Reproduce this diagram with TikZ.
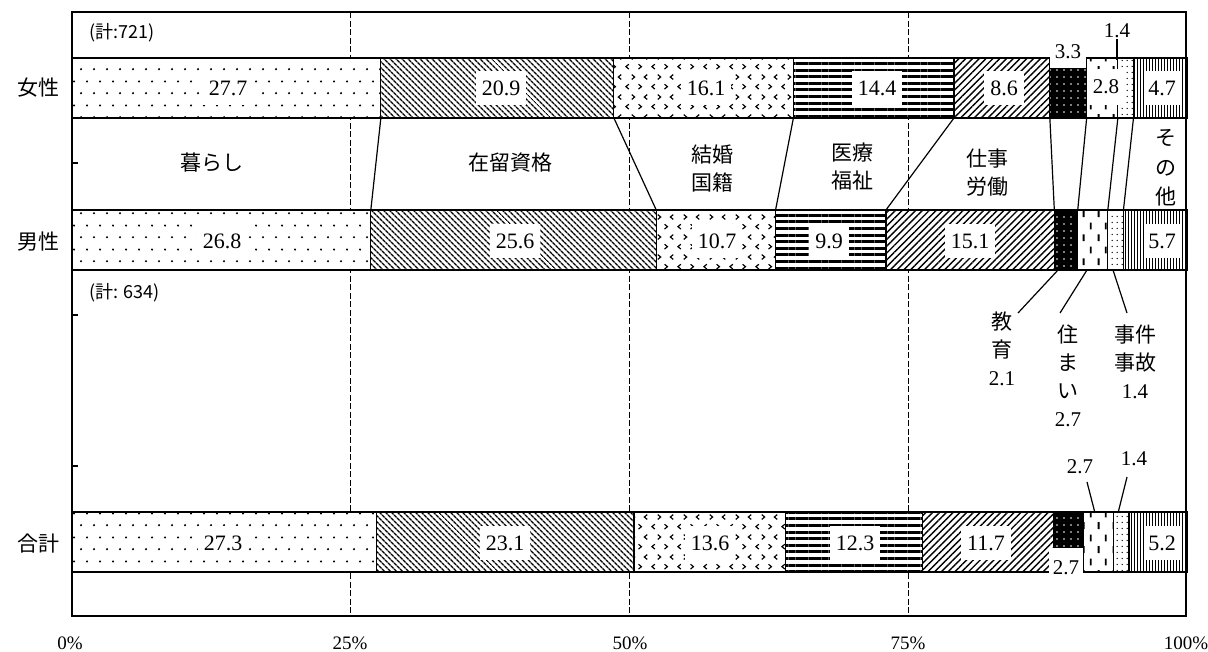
\documentclass[tikz,border=0pt]{standalone}
\usepackage{fontspec}
\setmainfont{Liberation Serif}
\newfontfamily\jp{Noto Sans CJK JP}
\usetikzlibrary{patterns.meta}

\tikzdeclarepattern{
  name=sparsedots, type=uncolored,
  bottom left={(0pt,0pt)}, top right={(13pt,24pt)}, tile size={(13pt,24pt)},
  code={
    \fill (3.25pt,6pt) circle [radius=1.2pt];
    \fill (9.75pt,18pt) circle [radius=1.2pt];
  }
}
\tikzdeclarepattern{
  name=chevrons, type=uncolored,
  bottom left={(0pt,0pt)}, top right={(26pt,20pt)}, tile size={(26pt,20pt)},
  code={
    \draw[line width=1.2pt] (5pt,2pt) -- (2pt,4.5pt) -- (5pt,7pt);
    \draw[line width=1.2pt] (15pt,2pt) -- (18pt,4.5pt) -- (15pt,7pt);
    \draw[line width=1.2pt] (8pt,12pt) -- (11pt,14.5pt) -- (8pt,17pt);
    \draw[line width=1.2pt] (24pt,12pt) -- (21pt,14.5pt) -- (24pt,17pt);
  }
}
\tikzdeclarepattern{
  name=vdashes, type=uncolored,
  bottom left={(0pt,0pt)}, top right={(15pt,24pt)}, tile size={(15pt,24pt)},
  code={
    \draw[line width=2pt] (3.75pt,2pt) -- (3.75pt,9pt);
    \draw[line width=2pt] (11.25pt,14pt) -- (11.25pt,21pt);
  }
}
\tikzdeclarepattern{
  name=tinydots, type=uncolored,
  bottom left={(0pt,0pt)}, top right={(5pt,6pt)}, tile size={(5pt,6pt)},
  code={
    \fill (2.5pt,3pt) circle [radius=0.8pt];
  }
}

\begin{document}
\begin{tikzpicture}[x=1pt,y=-1pt,
  seg/.style={draw=black, line width=1.2pt, preaction={fill=white}},
  kurashi/.style={pattern=sparsedots},
  zairyu/.style={pattern={Lines[angle=-45,distance=4pt,line width=1.5pt]}},
  kekkon/.style={pattern=chevrons},
  iryo/.style={pattern={Lines[angle=0,distance=6.6pt,line width=3pt]}},
  shigoto/.style={pattern={Lines[angle=45,distance=4.8pt,line width=1.4pt]}},
  kyoiku/.style={preaction={fill=black}, pattern={Dots[radius=0.9pt,distance=7pt]}, pattern color=white},
  sumai/.style={pattern=vdashes},
  jiken/.style={pattern=tinydots},
  sonota/.style={pattern={Lines[angle=90,distance=3pt,line width=1pt]}},
  grid/.style={dash pattern=on 6pt off 2.5pt, line width=1pt},
  conn/.style={line width=1.2pt},
  val/.style={fill=white, inner xsep=6pt, inner ysep=10pt, font=\fontsize{22}{24}\selectfont},
  small/.style={inner sep=1pt, font=\fontsize{21}{24}\selectfont},
  cat/.style={font=\jp\fontsize{21}{28}\selectfont, align=center},
  vlab/.style={font=\fontsize{21}{28}\selectfont, align=center},
  rowlab/.style={font=\jp\fontsize{21}{24}\selectfont},
  axlab/.style={font=\fontsize{19}{20}\selectfont},
  total/.style={font=\jp\fontsize{18}{20}\selectfont, anchor=west}
]
\def\sc{11.15}
\useasboundingbox (0,0) rectangle (1208,651);
\fill[white] (0,0) rectangle (1208,651);

% dashed grid lines
\foreach \p in {25,50,75}
  \draw[grid] ({72+\sc*\p},12) -- ({72+\sc*\p},616);

% bars
\foreach \s/\e/\st in {0/27.7/kurashi, 27.7/48.6/zairyu, 48.6/64.7/kekkon, 64.7/79.1/iryo, 79.1/87.7/shigoto, 87.7/91.0/kyoiku, 91.0/93.8/sumai, 93.8/95.2/jiken, 95.2/100/sonota}
  \draw[seg,\st] ({72+\sc*\s},58) rectangle ({72+\sc*\e},118);
\foreach \s/\e/\st in {0/26.8/kurashi, 26.8/52.4/zairyu, 52.4/63.1/kekkon, 63.1/73.0/iryo, 73.0/88.1/shigoto, 88.1/90.2/kyoiku, 90.2/92.9/sumai, 92.9/94.3/jiken, 94.3/100/sonota}
  \draw[seg,\st] ({72+\sc*\s},210) rectangle ({72+\sc*\e},270);
\foreach \s/\e/\st in {0/27.3/kurashi, 27.3/50.4/zairyu, 50.4/64.0/kekkon, 64.0/76.3/iryo, 76.3/88.0/shigoto, 88.0/90.7/kyoiku, 90.7/93.4/sumai, 93.4/94.8/jiken, 94.8/100/sonota}
  \draw[seg,\st] ({72+\sc*\s},512) rectangle ({72+\sc*\e},572);

% connectors between female and male bars
\foreach \a/\b [count=\i] in {27.7/26.8, 48.6/52.4, 64.7/63.1, 79.1/73.0, 87.7/88.1, 91.0/90.2, 93.8/92.9, 95.2/94.3} {
  \coordinate (f\i) at ({72+\sc*\a},118);
  \coordinate (m\i) at ({72+\sc*\b},210);
  \draw[conn] (f\i) -- (m\i);
}

% frame
\draw[line width=1.2pt] (72,12) rectangle (1186,616);
\draw[line width=2pt] (72,12) -- (72,616);
\foreach \t [count=\i] in {163,315,466}
  \draw[line width=1.2pt] (72,\t) -- (78,\t);

% totals
\node[total] (t721) at (86,33) {(計:721)};
\node[total] (t634) at (86,293) {(計: 634)};

% row labels
\node[rowlab] (rf) at (38,88) {女性};
\node[rowlab] (rm) at (38,242) {男性};
\node[rowlab] (rt) at (38,544) {合計};

% female values
\node[val] (f277) at (228,88) {27.7};
\node[val] (f209) at (501,88) {20.9};
\node[val] (f161) at (706,88) {16.1};
\node[val] (f144) at (877,88) {14.4};
\node[val] (f86) at (1004,88) {8.6};
\node[small, fill=white, minimum width=36pt, minimum height=32pt] (f33) at (1068,52) {3.3};
\node[small, fill=white, minimum width=36pt, minimum height=36pt] (f28) at (1106,87) {2.8};
\node[small] (f14) at (1117,31) {1.4};
\coordinate (f14e) at (1117,60);
\draw[conn] (f14.south) -- (f14e);
\node[val, inner xsep=4pt] (f47) at (1162,88) {4.7};

% male values
\node[val] (m268) at (222,241) {26.8};
\node[val] (m256) at (515,241) {25.6};
\node[val] (m107) at (717,241) {10.7};
\node[val] (m99) at (829,241) {9.9};
\node[val] (m151) at (970,241) {15.1};
\node[val, inner xsep=4pt] (m57) at (1162,241) {5.7};

% total values
\node[val] (t273) at (223,543) {27.3};
\node[val] (t231) at (505,543) {23.1};
\node[val] (t136) at (710,543) {13.6};
\node[val] (t123) at (855,543) {12.3};
\node[val] (t117) at (986,543) {11.7};
\node[small, fill=white, minimum width=34pt, minimum height=40pt] (t27a) at (1066,568) {2.7};
\node[small] (t27b) at (1080,467) {2.7};
\coordinate (t27be) at (1095,513);
\draw[conn] (1087,482) -- (t27be);
\node[small] (t14) at (1134,459) {1.4};
\coordinate (t14e) at (1118,513);
\draw[conn] (1127,477) -- (t14e);
\node[val, inner xsep=4pt] (t52) at (1162,543) {5.2};

% category labels
\node[cat] (c1) at (212,163) {暮らし};
\node[cat] (c2) at (510,163) {在留資格};
\node[cat] (c3) at (712,169) {結婚\\国籍};
\node[cat] (c4) at (852,167) {医療\\福祉};
\node[cat] (c5) at (987,173) {仕事\\労働};
\node[cat, font=\jp\fontsize{21}{29.5}\selectfont] (c6) at (1166,168) {そ\\の\\他};

% lower labels
\node[vlab] (l1) at (1002,349) {{\jp 教}\\{\jp 育}\\2.1};
\node[vlab] (l2) at (1068,376) {{\jp 住}\\{\jp ま}\\{\jp い}\\2.7};
\node[vlab] (l3) at (1135,362) {{\jp 事件}\\{\jp 事故}\\1.4};
\coordinate (k1) at (1058,270);
\coordinate (k2) at (1087,270);
\coordinate (k3) at (1113,270);
\draw[conn] (k1) -- (1018,313);
\draw[conn] (k2) -- (1060,313);
\draw[conn] (k3) -- (1127,313);

% axis labels
\node[axlab] (a0) at (70,643) {0\%};
\node[axlab] (a25) at (350,643) {25\%};
\node[axlab] (a50) at (630,643) {50\%};
\node[axlab] (a75) at (908,643) {75\%};
\node[axlab] (a100) at (1186,643) {100\%};
\end{tikzpicture}
\end{document}
